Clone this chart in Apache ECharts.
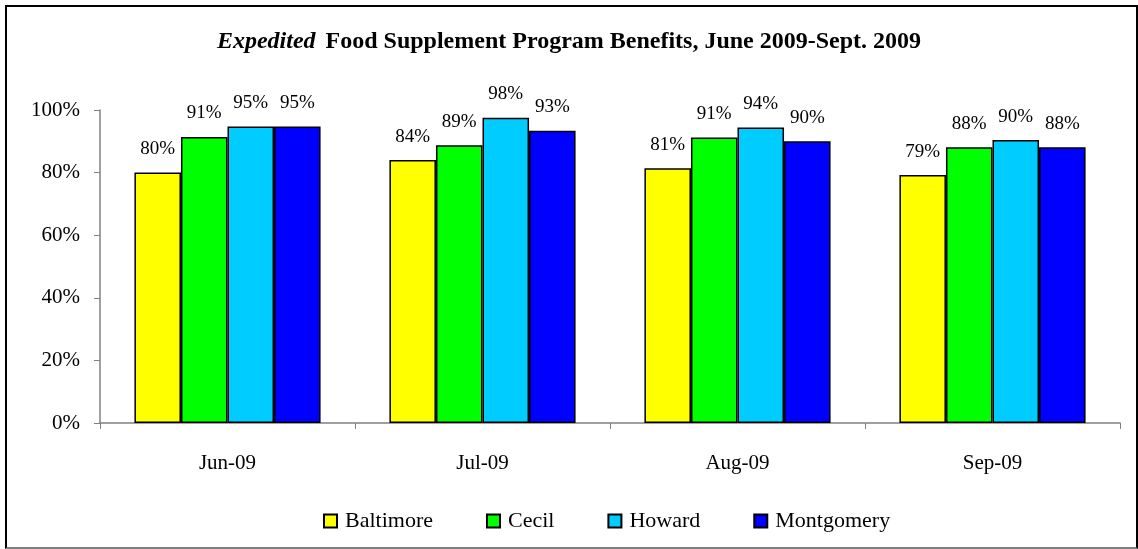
<!DOCTYPE html>
<html>
<head>
<meta charset="utf-8">
<script src="https://cdn.jsdelivr.net/npm/echarts@6/dist/echarts.min.js"></script>
<style>
  html, body { margin: 0; padding: 0; background: #fff; }
  #frame {
    position: absolute; left: 5px; top: 5px; width: 1129px; height: 540px;
    border: 2px solid #000; border-bottom-color: #808080;
  }
  #chart { position: absolute; left: 0; top: 0; width: 1138px; height: 549px; }
</style>
</head>
<body>
<div id="frame"></div>
<div id="chart"></div>
<script>
// months on the x axis
const months = ["Jun-09", "Jul-09", "Aug-09", "Sep-09"];
// percent of benefits expedited, per county
const baltimore = [80.0, 84.0, 81.4, 79.2];
const cecil = [91.4, 88.7, 91.2, 88.1];
const howard = [94.7, 97.5, 94.4, 90.4];
const montgomery = [94.7, 93.4, 90.0, 88.1];
const yTicks = [0, 20, 40, 60, 80, 100];

const serif = "'Liberation Serif', 'DejaVu Serif', serif";

function makeSeries(name, data, color) {
  return {
    name: name,
    type: "bar",
    data: data,
    barGap: "0%",
    barCategoryGap: "27%",
    itemStyle: { color: color, borderColor: "#000", borderWidth: 1.5 },
    label: {
      show: true,
      position: "top",
      distance: 14,
      fontFamily: serif,
      fontSize: 19,
      color: "#000",
      formatter: p => Math.round(p.value) + "%"
    }
  };
}

let myChart = echarts.init(document.getElementById("chart"));
myChart.setOption({
  animation: false,
  title: {
    text: "{i|Expedited}  {b|Food Supplement Program Benefits, June 2009-Sept. 2009}",
    left: "center",
    top: 25,
    textStyle: {
      rich: {
        i: { fontFamily: serif, fontSize: 24, fontStyle: "italic", fontWeight: "bold", color: "#000" },
        b: { fontFamily: serif, fontSize: 24, fontWeight: "bold", color: "#000" }
      }
    }
  },
  legend: {
    bottom: 12,
    left: 318,
    itemWidth: 13,
    itemHeight: 13,
    itemGap: 53,
    icon: "rect",
    selectedMode: false,
    textStyle: { fontFamily: serif, fontSize: 22, color: "#000", padding: [0, 0, 0, 3] },
    data: ["Baltimore", "Cecil", "Howard", "Montgomery"]
  },
  grid: { left: 100, right: 18, top: 110, bottom: 126 },
  xAxis: {
    type: "category",
    data: months,
    axisLine: { lineStyle: { color: "#808080", width: 1.5 } },
    axisTick: { show: true, length: 6, lineStyle: { color: "#808080" } },
    axisLabel: { fontFamily: serif, fontSize: 21, color: "#000", margin: 30 }
  },
  yAxis: {
    type: "value",
    min: yTicks[0],
    max: yTicks[yTicks.length - 1],
    interval: 20,
    splitLine: { show: false },
    axisLine: { show: true, lineStyle: { color: "#808080", width: 1.5 } },
    axisTick: { show: true, length: 6, lineStyle: { color: "#808080" } },
    axisLabel: { fontFamily: serif, fontSize: 21, color: "#000", margin: 20, formatter: "{value}%" }
  },
  series: [
    makeSeries("Baltimore", baltimore, "#FFFF00"),
    makeSeries("Cecil", cecil, "#00FF00"),
    makeSeries("Howard", howard, "#00CCFF"),
    makeSeries("Montgomery", montgomery, "#0000FF")
  ]
});
</script>
</body>
</html>
